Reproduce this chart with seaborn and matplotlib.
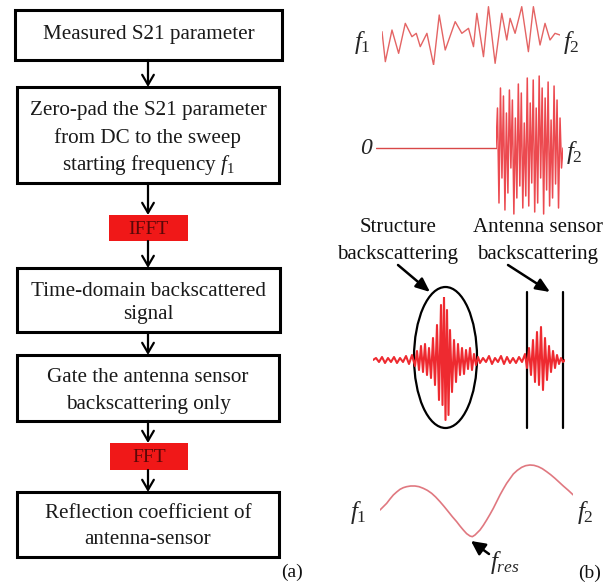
import matplotlib
matplotlib.use("Agg")
import matplotlib.pyplot as plt
from matplotlib.patches import Rectangle, Ellipse
import seaborn as sns
import pandas as pd

# ---------------- data ----------------
box_texts = [
    ["Measured S21 parameter"],
    ["Zero-pad the S21 parameter", "from DC to the sweep", r"starting frequency $\mathit{f}_{\mathit{1}}$"],
    ["Time-domain backscattered", "signal"],
    ["Gate the antenna sensor", "backscattering only"],
    ["Reflection coefficient of", "antenna-sensor"],
]
op_labels = ["IFFT", "FFT"]

# measured S21 (sweep f1 -> f2)
s21_freq = [125, 135, 155, 175, 195, 215, 228, 240, 260, 280, 297, 315, 345, 365, 385,
            400, 410, 430, 445, 465, 485, 500, 510, 525, 545, 565, 580, 600, 615, 630,
            645, 660]
s21_amp = [10, -80, 15, -55, 35, -5, 5, -35, 5, -90, 60, -45, 40, 5, 20,
           -35, 65, -65, 85, -85, 65, -15, 50, 5, 85, -50, 85, -30, 35, -15,
           5, 0]

# zero-padded S21: zero from DC to f1, then the measured samples
pad_freq = [0, 122]
pad_amp = [0, 0]
burst_amp = [0, 40, -55, 60, -30, 52, -62, 35, -45, 58, -20, 48, -66, 30, -50, 64,
             -38, 55, -60, 25, -48, 70, -58, 45, -35, 68, -64, 40, -55, 72, -30, 60,
             -66, 50, -42, 66, -58, 28, -50, 62, -36, 48, -60, 30, -20, 0]

# time-domain backscattered signal
td_time = [0, 3, 6, 9, 12, 15, 18, 21, 24, 27, 30, 33, 36, 39, 42,
           44, 46, 48, 50, 52, 54, 56, 58, 60, 62, 64, 66, 68, 69.5, 71, 72.5,
           74, 75.5, 77, 79, 81, 83, 85, 87, 89, 91, 93, 95, 97, 99, 101, 103,
           105, 107, 110, 113, 116, 119, 122, 125, 128, 131, 134, 137, 140, 143,
           146, 149, 152, 154, 156, 158, 160, 162, 164, 166, 168, 170, 172, 174,
           176, 178, 180, 182, 184, 186, 188, 190, 192]
td_amp = [0, 2, -2, 3, -3, 2, -2, 3, -3, 2, -2, 4, -4, 5, -6,
          9, -10, 14, -12, 16, -15, 12, -18, 22, -25, 35, -40, 55, -45, 63, -60,
          50, -55, 30, -32, 20, -22, 16, -15, 12, -14, 10, -9, 12, -10, 6, -5,
          3, -3, 2, -2, 4, -4, 2, -2, 4, -4, 3, -3, 2, -3,
          3, -2, 6, -8, 12, -15, 20, -22, 28, -25, 33, -30, 22, -20,
          14, -12, 9, -8, 5, -4, 2, -2, 0]

# gated reflection coefficient
rc_freq = [120, 130, 140, 150, 160, 170, 180, 190, 200, 212, 225, 237, 250, 262, 275,
           287, 300, 312, 325, 337, 350, 360, 370, 380, 390, 397, 405, 412, 420, 430,
           440, 450, 460, 470, 480, 490, 500, 510, 520, 532, 545, 557, 570, 582, 595,
           607, 620, 632, 645, 657, 670, 685, 700]
rc_amp = [-180, -170, -160, -147, -135, -126, -118, -113, -110, -108, -108, -110, -115,
          -121, -130, -141, -155, -169, -185, -200, -215, -228, -240, -251, -258, -260,
          -255, -248, -240, -226, -210, -193, -175, -155, -135, -117, -100, -86, -72,
          -61, -52, -47, -45, -46, -50, -56, -65, -74, -85, -96, -108, -121, -135]

# ---------------- figure ----------------
sns.set_theme(style="white")
plt.rcParams["font.family"] = ["Liberation Serif", "DejaVu Serif"]
plt.rcParams["mathtext.fontset"] = "custom"
plt.rcParams["mathtext.rm"] = "Liberation Serif"
plt.rcParams["mathtext.it"] = "Liberation Serif:italic"

W, H = 615, 585
fig = plt.figure(figsize=(W / 100, H / 100), dpi=100)
ax = fig.add_axes([0, 0, 1, 1])
ax.set_xlim(0, W)
ax.set_ylim(H, 0)
ax.axis("off")


def inset(x0, y0, x1, y1):
    a = fig.add_axes([x0 / W, 1 - y1 / H, (x1 - x0) / W, (y1 - y0) / H])
    a.axis("off")
    a.patch.set_alpha(0)
    return a


F1 = r"$\mathit{f}_{\mathit{1}}$"
F2 = r"$\mathit{f}_{\mathit{2}}$"

# flowchart boxes
boxes = [(15, 10, 282, 60), (17, 87, 279, 183), (17, 268, 280, 332),
         (17, 355, 279, 421), (17, 492, 279, 557)]
line_y = [[35], [111, 138, 165], [291, 315], [378, 404], [513, 539]]
fs = 15.2
for (x0, y0, x1, y1), lines, ys in zip(boxes, box_texts, line_y):
    ax.add_patch(Rectangle((x0, y0), x1 - x0, y1 - y0, fill=False, ec="black", lw=2.2))
    for t, yy in zip(lines, ys):
        ax.text((x0 + x1) / 2, yy, t, ha="center", va="center", fontsize=fs, color="#1a1a1a")

ops = [(109, 215, 188, 241), (110, 443, 188, 470)]
for (x0, y0, x1, y1), lab in zip(ops, op_labels):
    ax.add_patch(Rectangle((x0, y0), x1 - x0, y1 - y0, fc="#f01818", ec="none"))
    ax.text((x0 + x1) / 2, (y0 + y1) / 2 + 1, lab, ha="center", va="center",
            fontsize=14, color="#5a0808")

arrows = [(60, 87), (183, 215), (241, 268), (332, 355), (421, 443), (470, 492)]
for ya, yb in arrows:
    ax.annotate("", xy=(148, yb), xytext=(148, ya),
                arrowprops=dict(arrowstyle="->,head_length=0.6,head_width=0.35",
                                color="black", lw=1.6, shrinkA=0, shrinkB=0))

ax.text(292, 572, "(a)", ha="center", va="center", fontsize=14, color="#111111")
ax.text(590, 573, "(b)", ha="center", va="center", fontsize=14, color="#111111")

# signal 1: measured S21
a1 = inset(382, 5, 560, 65)
sns.lineplot(x=s21_freq, y=s21_amp, ax=a1, color="#e46464", lw=1.0, sort=False, estimator=None)
a1.set_xlim(125, 660); a1.set_ylim(-90, 90); a1.axis("off")
ax.text(362, 42, F1, ha="center", va="center", fontsize=18)
ax.text(571, 42, F2, ha="center", va="center", fontsize=18)

# signal 2: zero-padded
a2 = inset(376, 75, 497, 221)
sns.lineplot(x=pad_freq, y=pad_amp, ax=a2, color="#d84848", lw=1.0, sort=False, estimator=None)
a2.set_xlim(0, 122); a2.set_ylim(-73, 73); a2.axis("off")
a3 = inset(496, 75, 563, 221)
burst = pd.DataFrame({"n": range(len(burst_amp)), "amp": burst_amp})
sns.lineplot(data=burst, x="n", y="amp", ax=a3, color="#ec4a50", lw=1.1, sort=False, estimator=None)
a3.set_xlim(0, len(burst_amp) - 1); a3.set_ylim(-73, 73); a3.axis("off")
ax.text(366, 148, "0", ha="center", va="center", fontsize=17, style="italic")
ax.text(574, 152, F2, ha="center", va="center", fontsize=18)

# labels
ax.text(398, 228, "Structure", ha="center", va="center", fontsize=15, color="#111111")
ax.text(398, 255, "backscattering", ha="center", va="center", fontsize=15, color="#111111")
ax.text(538, 228, "Antenna sensor", ha="center", va="center", fontsize=15, color="#111111")
ax.text(538, 255, "backscattering", ha="center", va="center", fontsize=15, color="#111111")
for (xa, ya), (xb, yb) in [((398, 265), (430, 292)), ((508, 265), (550, 292))]:
    ax.annotate("", xy=(xb, yb), xytext=(xa, ya),
                arrowprops=dict(arrowstyle="-|>,head_length=0.7,head_width=0.3",
                                color="black", lw=1.8, shrinkA=0, shrinkB=0))

# signal 3: time domain
a4 = inset(373, 297, 565, 421)
sns.lineplot(x=td_time, y=td_amp, ax=a4, color="#ee2a30", lw=1.5, sort=False, estimator=None)
a4.set_xlim(0, 192); a4.set_ylim(-61, 63); a4.axis("off")
ax.add_patch(Ellipse((445.5, 357.5), 63, 141, fill=False, ec="black", lw=1.6))
for gx in (527, 563):
    ax.plot([gx, gx], [292, 428], color="black", lw=1.6)

# signal 4: reflection coefficient
a5 = inset(380, 450, 573.3, 540)
sns.lineplot(x=rc_freq, y=rc_amp, ax=a5, color="#e07880", lw=1.2, sort=False, estimator=None)
a5.set_xlim(120, 700); a5.set_ylim(-270, 0); a5.axis("off")
ax.text(358, 513, F1, ha="center", va="center", fontsize=18)
ax.text(585, 512, F2, ha="center", va="center", fontsize=18)
ax.annotate("", xy=(471, 541), xytext=(489, 554),
            arrowprops=dict(arrowstyle="-|>,head_length=0.7,head_width=0.35",
                            color="black", lw=1.8, shrinkA=0, shrinkB=0))
ax.text(505, 562, r"$\mathit{f}_{\mathit{res}}$", ha="center", va="center", fontsize=18)

fig.savefig("out.png", dpi=100)
